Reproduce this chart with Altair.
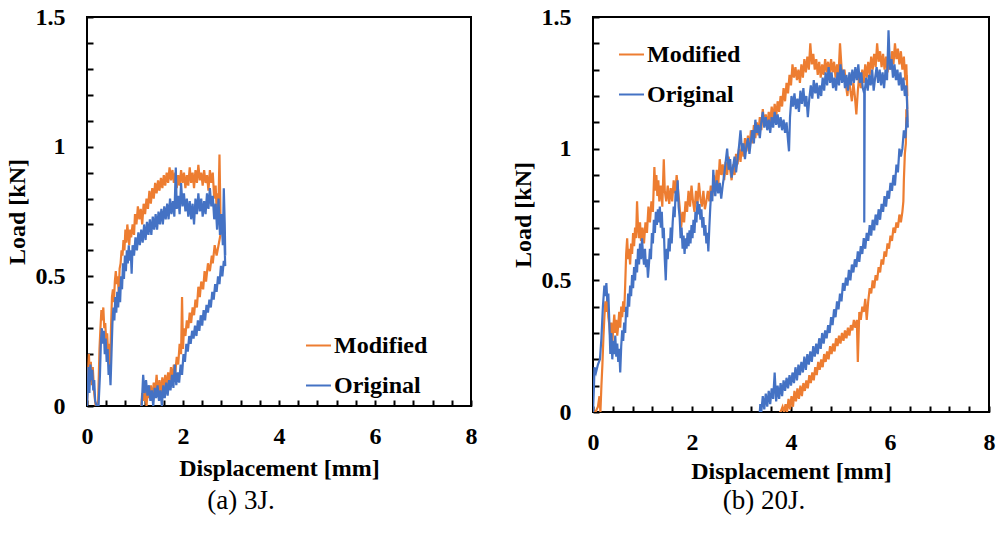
import altair as alt
import pandas as pd

SERIES = ["Modified", "Original"]
COLORS = ["#ED7D31", "#4472C4"]
X_TICKS = [0, 0.4, 0.8, 1.2, 1.6, 2, 2.4, 2.8, 3.2, 3.6, 4, 4.4, 4.8, 5.2, 5.6, 6, 6.4, 6.8, 7.2, 7.6, 8]
Y_TICKS = [0, 0.1, 0.2, 0.3, 0.4, 0.5, 0.6, 0.7, 0.8, 0.9, 1.0, 1.1, 1.2, 1.3, 1.4, 1.5]
CAPTIONS = ["(a) 3J.", "(b) 20J."]

# ---------- (a) 3J : [displacement mm, load kN] ----------
A_MODIFIED = [
    [0.00, 0.00], [0.02, 0.12], [0.04, 0.20], [0.06, 0.10], [0.08, 0.17], [0.10, 0.08], [0.12, 0.15],
    [0.15, 0.05], [0.18, 0.00], [0.20, 0.00], [0.23, 0.00], [0.26, 0.22], [0.28, 0.30], [0.30, 0.37],
    [0.32, 0.33], [0.34, 0.38], [0.36, 0.30], [0.38, 0.32], [0.40, 0.25], [0.42, 0.28], [0.44, 0.20],
    [0.46, 0.24], [0.48, 0.15], [0.50, 0.30], [0.52, 0.42], [0.54, 0.45], [0.56, 0.40], [0.58, 0.48],
    [0.60, 0.52], [0.62, 0.47], [0.64, 0.50], [0.66, 0.44], [0.68, 0.53], [0.70, 0.55], [0.72, 0.60],
    [0.74, 0.58], [0.76, 0.64], [0.78, 0.60], [0.80, 0.68], [0.82, 0.63], [0.84, 0.70], [0.86, 0.66],
    [0.88, 0.62], [0.90, 0.68], [0.92, 0.65], [0.95, 0.70], [0.98, 0.66], [1.00, 0.74], [1.03, 0.70],
    [1.06, 0.77], [1.09, 0.72], [1.12, 0.76], [1.15, 0.70], [1.18, 0.78], [1.21, 0.74], [1.24, 0.80],
    [1.27, 0.76], [1.30, 0.83], [1.33, 0.78], [1.36, 0.84], [1.39, 0.80], [1.42, 0.86], [1.45, 0.82],
    [1.48, 0.87], [1.51, 0.83], [1.54, 0.88], [1.57, 0.84], [1.60, 0.89], [1.63, 0.85], [1.66, 0.90],
    [1.69, 0.86], [1.72, 0.92], [1.75, 0.87], [1.78, 0.91], [1.81, 0.86], [1.84, 0.90], [1.87, 0.84],
    [1.90, 0.89], [1.93, 0.85], [1.96, 0.91], [1.99, 0.86], [2.02, 0.90], [2.05, 0.84], [2.08, 0.89],
    [2.11, 0.85], [2.14, 0.92], [2.17, 0.86], [2.20, 0.90], [2.23, 0.84], [2.26, 0.91], [2.29, 0.86],
    [2.32, 0.93], [2.35, 0.87], [2.38, 0.90], [2.41, 0.85], [2.44, 0.91], [2.47, 0.86], [2.50, 0.89],
    [2.53, 0.83], [2.56, 0.91], [2.59, 0.86], [2.62, 0.90], [2.65, 0.80], [2.68, 0.85], [2.70, 0.76],
    [2.72, 0.82], [2.74, 0.78], [2.76, 0.97], [2.78, 0.74], [2.80, 0.70], [2.78, 0.66], [2.74, 0.62],
    [2.70, 0.58], [2.66, 0.62], [2.62, 0.55], [2.60, 0.58], [2.56, 0.52], [2.52, 0.55], [2.48, 0.48],
    [2.45, 0.52], [2.42, 0.45], [2.38, 0.48], [2.35, 0.42], [2.32, 0.46], [2.29, 0.38], [2.26, 0.41],
    [2.23, 0.35], [2.20, 0.38], [2.17, 0.32], [2.14, 0.36], [2.11, 0.30], [2.08, 0.33], [2.05, 0.27],
    [2.02, 0.30], [2.00, 0.22], [1.98, 0.42], [1.96, 0.20], [1.93, 0.24], [1.90, 0.16], [1.87, 0.19],
    [1.84, 0.13], [1.81, 0.16], [1.78, 0.10], [1.75, 0.15], [1.72, 0.09], [1.69, 0.13], [1.66, 0.07],
    [1.63, 0.12], [1.60, 0.06], [1.57, 0.11], [1.54, 0.05], [1.51, 0.10], [1.48, 0.04], [1.45, 0.12],
    [1.42, 0.05], [1.39, 0.09], [1.36, 0.02], [1.33, 0.08], [1.30, 0.03], [1.27, 0.07], [1.24, 0.00],
    [1.21, 0.06], [1.18, 0.02], [1.15, 0.05], [1.13, 0.00],
]

A_ORIGINAL = [
    [0.00, 0.00], [0.02, 0.08], [0.03, 0.15], [0.05, 0.05], [0.07, 0.16], [0.09, 0.10], [0.11, 0.14],
    [0.13, 0.06], [0.15, 0.10], [0.17, 0.02], [0.20, 0.00], [0.24, 0.00], [0.27, 0.12], [0.29, 0.25],
    [0.31, 0.30], [0.33, 0.24], [0.35, 0.29], [0.37, 0.20], [0.39, 0.26], [0.41, 0.17], [0.43, 0.22],
    [0.45, 0.12], [0.47, 0.16], [0.49, 0.08], [0.51, 0.20], [0.53, 0.32], [0.55, 0.38], [0.57, 0.33],
    [0.59, 0.42], [0.61, 0.36], [0.63, 0.44], [0.65, 0.38], [0.67, 0.46], [0.69, 0.40], [0.71, 0.50],
    [0.73, 0.45], [0.75, 0.55], [0.77, 0.49], [0.79, 0.58], [0.81, 0.52], [0.83, 0.60], [0.85, 0.55],
    [0.87, 0.62], [0.89, 0.56], [0.91, 0.60], [0.93, 0.51], [0.95, 0.62], [0.98, 0.58], [1.01, 0.65],
    [1.04, 0.60], [1.07, 0.67], [1.10, 0.62], [1.13, 0.68], [1.16, 0.63], [1.19, 0.70], [1.22, 0.64],
    [1.25, 0.71], [1.28, 0.66], [1.31, 0.72], [1.34, 0.66], [1.37, 0.73], [1.40, 0.68], [1.43, 0.74],
    [1.46, 0.68], [1.49, 0.75], [1.52, 0.70], [1.55, 0.76], [1.58, 0.70], [1.61, 0.77], [1.64, 0.72],
    [1.67, 0.78], [1.70, 0.72], [1.73, 0.80], [1.76, 0.74], [1.79, 0.79], [1.82, 0.73], [1.85, 0.92],
    [1.87, 0.76], [1.90, 0.81], [1.93, 0.74], [1.96, 0.86], [1.99, 0.77], [2.02, 0.82], [2.05, 0.75],
    [2.08, 0.80], [2.11, 0.73], [2.14, 0.79], [2.17, 0.72], [2.20, 0.78], [2.23, 0.70], [2.26, 0.80],
    [2.29, 0.74], [2.32, 0.82], [2.35, 0.75], [2.38, 0.80], [2.41, 0.73], [2.44, 0.79], [2.47, 0.74],
    [2.50, 0.82], [2.53, 0.76], [2.56, 0.84], [2.59, 0.77], [2.62, 0.81], [2.65, 0.72], [2.68, 0.78],
    [2.71, 0.68], [2.74, 0.80], [2.77, 0.66], [2.80, 0.74], [2.83, 0.62], [2.85, 0.84], [2.87, 0.70],
    [2.88, 0.58], [2.86, 0.66], [2.88, 0.54], [2.85, 0.56], [2.82, 0.50], [2.79, 0.54], [2.76, 0.47],
    [2.73, 0.50], [2.70, 0.44], [2.67, 0.47], [2.64, 0.41], [2.61, 0.44], [2.58, 0.38], [2.55, 0.41],
    [2.52, 0.36], [2.49, 0.39], [2.46, 0.33], [2.43, 0.37], [2.40, 0.31], [2.37, 0.35], [2.34, 0.29],
    [2.31, 0.33], [2.28, 0.27], [2.25, 0.31], [2.22, 0.26], [2.19, 0.29], [2.16, 0.24], [2.13, 0.27],
    [2.10, 0.21], [2.07, 0.24], [2.04, 0.17], [2.01, 0.20], [1.98, 0.12], [1.95, 0.16], [1.92, 0.09],
    [1.89, 0.13], [1.86, 0.08], [1.83, 0.16], [1.80, 0.07], [1.77, 0.12], [1.74, 0.06], [1.71, 0.10],
    [1.68, 0.04], [1.65, 0.09], [1.62, 0.03], [1.59, 0.08], [1.56, 0.00], [1.53, 0.06], [1.50, 0.02],
    [1.47, 0.08], [1.44, 0.03], [1.41, 0.07], [1.38, 0.00], [1.35, 0.06], [1.32, 0.02], [1.29, 0.08],
    [1.26, 0.04], [1.23, 0.10], [1.20, 0.05], [1.17, 0.12], [1.15, 0.04], [1.14, 0.00],
]

# ---------- (b) 20J ----------
B_MODIFIED = [
    [0.00, 0.00], [0.05, 0.00], [0.10, 0.02], [0.13, 0.06], [0.15, 0.00], [0.17, 0.10], [0.19, 0.18],
    [0.21, 0.28], [0.23, 0.36], [0.25, 0.42], [0.27, 0.38], [0.29, 0.44], [0.31, 0.36], [0.33, 0.33],
    [0.35, 0.28], [0.37, 0.34], [0.39, 0.26], [0.41, 0.32], [0.43, 0.37], [0.45, 0.30], [0.47, 0.35],
    [0.49, 0.29], [0.51, 0.33], [0.53, 0.38], [0.55, 0.32], [0.57, 0.40], [0.59, 0.36], [0.61, 0.42],
    [0.63, 0.38], [0.65, 0.48], [0.67, 0.60], [0.69, 0.66], [0.71, 0.58], [0.73, 0.62], [0.75, 0.56],
    [0.77, 0.64], [0.79, 0.60], [0.81, 0.68], [0.83, 0.63], [0.85, 0.70], [0.87, 0.66], [0.89, 0.80],
    [0.91, 0.70], [0.93, 0.66], [0.95, 0.72], [0.97, 0.65], [1.00, 0.70], [1.03, 0.64], [1.06, 0.72],
    [1.09, 0.68], [1.12, 0.78], [1.15, 0.72], [1.18, 0.80], [1.21, 0.76], [1.24, 0.93], [1.26, 0.84],
    [1.28, 0.90], [1.30, 0.82], [1.32, 0.88], [1.34, 0.80], [1.37, 0.86], [1.40, 0.78], [1.43, 0.96],
    [1.45, 0.84], [1.48, 0.80], [1.51, 0.86], [1.54, 0.79], [1.57, 0.85], [1.60, 0.80], [1.63, 0.88],
    [1.66, 0.83], [1.69, 0.90], [1.72, 0.84], [1.75, 0.78], [1.78, 0.70], [1.81, 0.76], [1.84, 0.72],
    [1.87, 0.80], [1.90, 0.76], [1.93, 0.84], [1.96, 0.78], [1.99, 0.86], [2.02, 0.80], [2.05, 0.76],
    [2.08, 0.84], [2.11, 0.79], [2.14, 0.87], [2.17, 0.81], [2.20, 0.78], [2.23, 0.84], [2.26, 0.77],
    [2.29, 0.80], [2.32, 0.84], [2.35, 0.80], [2.38, 0.86], [2.41, 0.82], [2.44, 0.90], [2.47, 0.85],
    [2.50, 0.92], [2.53, 0.86], [2.56, 0.96], [2.59, 0.90], [2.62, 0.94], [2.65, 0.88], [2.68, 0.95],
    [2.71, 0.90], [2.74, 0.97], [2.77, 0.92], [2.80, 0.88], [2.83, 0.94], [2.86, 0.90], [2.89, 0.98],
    [2.92, 0.94], [2.95, 1.00], [2.98, 0.95], [3.01, 1.02], [3.04, 0.97], [3.07, 1.04], [3.10, 0.99],
    [3.13, 1.05], [3.16, 1.00], [3.19, 1.07], [3.22, 1.02], [3.25, 1.09], [3.28, 1.04], [3.31, 1.10],
    [3.34, 1.05], [3.37, 1.12], [3.40, 1.07], [3.43, 1.15], [3.46, 1.09], [3.49, 1.13], [3.52, 1.08],
    [3.55, 1.14], [3.58, 1.10], [3.61, 1.16], [3.64, 1.11], [3.67, 1.17], [3.70, 1.12], [3.73, 1.18],
    [3.76, 1.14], [3.79, 1.20], [3.82, 1.16], [3.85, 1.23], [3.88, 1.18], [3.91, 1.25], [3.94, 1.21],
    [3.97, 1.28], [4.00, 1.24], [4.03, 1.32], [4.06, 1.27], [4.09, 1.31], [4.12, 1.26], [4.15, 1.30],
    [4.18, 1.25], [4.21, 1.32], [4.24, 1.27], [4.27, 1.34], [4.30, 1.29], [4.33, 1.35], [4.36, 1.30],
    [4.39, 1.40], [4.42, 1.32], [4.45, 1.36], [4.48, 1.30], [4.51, 1.34], [4.54, 1.28], [4.57, 1.33],
    [4.60, 1.27], [4.63, 1.32], [4.66, 1.28], [4.69, 1.34], [4.72, 1.29], [4.75, 1.33], [4.78, 1.28],
    [4.81, 1.34], [4.84, 1.29], [4.87, 1.33], [4.90, 1.27], [4.93, 1.32], [4.96, 1.28], [4.99, 1.40],
    [5.02, 1.31], [5.05, 1.26], [5.08, 1.30], [5.11, 1.24], [5.14, 1.20], [5.17, 1.27], [5.20, 1.22],
    [5.23, 1.18], [5.26, 1.25], [5.29, 1.20], [5.32, 1.13], [5.35, 1.22], [5.38, 1.28], [5.41, 1.23],
    [5.44, 1.30], [5.47, 1.25], [5.50, 1.32], [5.53, 1.27], [5.56, 1.33], [5.59, 1.28], [5.62, 1.35],
    [5.65, 1.30], [5.68, 1.36], [5.71, 1.31], [5.74, 1.40], [5.77, 1.33], [5.80, 1.37], [5.83, 1.31],
    [5.86, 1.36], [5.89, 1.30], [5.92, 1.35], [5.95, 1.29], [5.98, 1.34], [6.01, 1.30], [6.04, 1.37],
    [6.07, 1.32], [6.10, 1.40], [6.13, 1.34], [6.16, 1.38], [6.19, 1.32], [6.22, 1.37], [6.25, 1.30],
    [6.28, 1.35], [6.31, 1.26], [6.33, 1.32], [6.35, 1.20], [6.34, 1.28], [6.35, 1.10], [6.33, 1.15],
    [6.32, 1.02], [6.30, 0.98], [6.28, 0.88], [6.27, 0.80], [6.25, 0.76], [6.22, 0.72], [6.19, 0.75],
    [6.16, 0.70], [6.13, 0.72], [6.10, 0.68], [6.07, 0.70], [6.04, 0.65], [6.01, 0.67], [5.98, 0.62],
    [5.95, 0.64], [5.92, 0.59], [5.89, 0.61], [5.86, 0.56], [5.83, 0.58], [5.80, 0.53], [5.77, 0.55],
    [5.74, 0.50], [5.71, 0.52], [5.68, 0.47], [5.65, 0.50], [5.62, 0.45], [5.59, 0.47], [5.56, 0.42],
    [5.53, 0.35], [5.50, 0.43], [5.47, 0.38], [5.44, 0.40], [5.41, 0.35], [5.38, 0.38], [5.35, 0.19],
    [5.33, 0.35], [5.30, 0.32], [5.27, 0.35], [5.24, 0.31], [5.21, 0.33], [5.18, 0.29], [5.15, 0.32],
    [5.12, 0.28], [5.09, 0.31], [5.06, 0.27], [5.03, 0.30], [5.00, 0.26], [4.97, 0.29], [4.94, 0.25],
    [4.91, 0.28], [4.88, 0.23], [4.85, 0.26], [4.82, 0.22], [4.79, 0.25], [4.76, 0.20], [4.73, 0.23],
    [4.70, 0.19], [4.67, 0.22], [4.64, 0.17], [4.61, 0.20], [4.58, 0.16], [4.55, 0.19], [4.52, 0.14],
    [4.49, 0.17], [4.46, 0.12], [4.43, 0.15], [4.40, 0.11], [4.37, 0.14], [4.34, 0.09], [4.31, 0.12],
    [4.28, 0.08], [4.25, 0.11], [4.22, 0.06], [4.19, 0.10], [4.16, 0.05], [4.13, 0.09], [4.10, 0.04],
    [4.07, 0.08], [4.04, 0.02], [4.01, 0.06], [3.98, 0.01], [3.95, 0.05], [3.92, 0.00], [3.89, 0.03],
    [3.86, 0.00], [3.83, 0.02], [3.79, 0.00], [3.76, 0.00],
]

B_ORIGINAL = [
    [0.00, 0.00], [0.02, 0.10], [0.03, 0.17], [0.06, 0.15], [0.10, 0.18], [0.14, 0.20], [0.17, 0.28],
    [0.20, 0.40], [0.23, 0.48], [0.25, 0.44], [0.27, 0.49], [0.29, 0.42], [0.31, 0.45], [0.33, 0.34],
    [0.35, 0.22], [0.37, 0.30], [0.39, 0.20], [0.41, 0.27], [0.43, 0.22], [0.45, 0.29], [0.47, 0.21],
    [0.49, 0.26], [0.51, 0.19], [0.53, 0.24], [0.55, 0.15], [0.57, 0.25], [0.59, 0.31], [0.61, 0.27],
    [0.63, 0.34], [0.65, 0.30], [0.67, 0.40], [0.69, 0.36], [0.71, 0.45], [0.73, 0.40], [0.75, 0.48],
    [0.77, 0.44], [0.79, 0.52], [0.81, 0.47], [0.83, 0.55], [0.85, 0.50], [0.87, 0.58], [0.89, 0.53],
    [0.91, 0.62], [0.93, 0.56], [0.95, 0.64], [0.97, 0.58], [0.99, 0.66], [1.01, 0.60], [1.03, 0.56],
    [1.05, 0.62], [1.07, 0.55], [1.09, 0.58], [1.11, 0.51], [1.13, 0.56], [1.15, 0.62], [1.17, 0.58],
    [1.19, 0.68], [1.21, 0.64], [1.23, 0.73], [1.25, 0.68], [1.27, 0.76], [1.29, 0.71], [1.31, 0.77],
    [1.33, 0.72], [1.35, 0.78], [1.37, 0.70], [1.39, 0.76], [1.41, 0.66], [1.43, 0.70], [1.45, 0.58],
    [1.47, 0.50], [1.49, 0.62], [1.51, 0.58], [1.53, 0.66], [1.55, 0.61], [1.57, 0.70], [1.59, 0.64],
    [1.61, 0.72], [1.63, 0.78], [1.65, 0.74], [1.67, 0.84], [1.69, 0.80], [1.71, 0.88], [1.73, 0.78],
    [1.75, 0.74], [1.77, 0.66], [1.79, 0.70], [1.81, 0.62], [1.83, 0.67], [1.85, 0.60], [1.87, 0.66],
    [1.89, 0.62], [1.91, 0.68], [1.93, 0.63], [1.95, 0.69], [1.97, 0.64], [1.99, 0.71], [2.01, 0.66],
    [2.03, 0.73], [2.05, 0.68], [2.07, 0.76], [2.09, 0.72], [2.11, 0.80], [2.13, 0.75], [2.15, 0.79],
    [2.17, 0.73], [2.19, 0.77], [2.21, 0.70], [2.23, 0.74], [2.25, 0.67], [2.27, 0.71], [2.29, 0.64],
    [2.31, 0.68], [2.33, 0.61], [2.35, 0.70], [2.37, 0.78], [2.39, 0.84], [2.41, 0.80], [2.43, 0.92],
    [2.45, 0.86], [2.47, 0.82], [2.50, 0.88], [2.53, 0.83], [2.56, 0.87], [2.59, 0.81], [2.62, 0.86],
    [2.65, 0.90], [2.68, 0.95], [2.71, 1.00], [2.74, 0.92], [2.77, 0.96], [2.80, 0.89], [2.83, 0.93],
    [2.86, 0.97], [2.89, 0.91], [2.92, 0.96], [2.95, 1.01], [2.98, 1.07], [3.01, 0.99], [3.04, 1.02],
    [3.07, 0.96], [3.10, 1.01], [3.13, 1.04], [3.16, 0.98], [3.19, 1.03], [3.22, 1.07], [3.25, 1.02],
    [3.28, 1.11], [3.31, 1.06], [3.34, 1.09], [3.37, 1.04], [3.40, 1.10], [3.43, 1.14], [3.46, 1.08],
    [3.49, 1.12], [3.52, 1.07], [3.55, 1.11], [3.58, 1.06], [3.61, 1.12], [3.64, 1.08], [3.67, 1.14],
    [3.70, 1.09], [3.73, 1.13], [3.76, 1.08], [3.79, 1.12], [3.82, 1.07], [3.85, 1.11], [3.88, 1.06],
    [3.91, 1.10], [3.94, 1.03], [3.96, 0.99], [3.98, 1.12], [4.01, 1.20], [4.04, 1.16], [4.07, 1.21],
    [4.10, 1.15], [4.13, 1.19], [4.16, 1.14], [4.19, 1.22], [4.22, 1.17], [4.25, 1.23], [4.28, 1.16],
    [4.31, 1.20], [4.34, 1.12], [4.37, 1.19], [4.40, 1.24], [4.43, 1.19], [4.46, 1.26], [4.49, 1.21],
    [4.52, 1.25], [4.55, 1.19], [4.58, 1.24], [4.61, 1.20], [4.64, 1.27], [4.67, 1.22], [4.70, 1.29],
    [4.73, 1.24], [4.76, 1.31], [4.79, 1.25], [4.82, 1.29], [4.85, 1.23], [4.88, 1.27], [4.91, 1.22],
    [4.94, 1.29], [4.97, 1.24], [5.00, 1.32], [5.03, 1.25], [5.06, 1.30], [5.09, 1.23], [5.12, 1.28],
    [5.15, 1.22], [5.18, 1.29], [5.21, 1.24], [5.24, 1.30], [5.27, 1.25], [5.30, 1.31], [5.33, 1.26],
    [5.36, 1.32], [5.39, 1.25], [5.42, 1.29], [5.45, 1.23], [5.48, 1.21], [5.48, 0.72], [5.49, 1.22],
    [5.52, 1.27], [5.55, 1.22], [5.58, 1.28], [5.61, 1.24], [5.64, 1.30], [5.67, 1.22], [5.70, 1.27],
    [5.73, 1.31], [5.76, 1.25], [5.79, 1.30], [5.82, 1.24], [5.85, 1.29], [5.88, 1.23], [5.91, 1.30],
    [5.94, 1.26], [5.97, 1.45], [6.00, 1.30], [6.03, 1.34], [6.06, 1.27], [6.09, 1.32], [6.12, 1.26],
    [6.15, 1.30], [6.18, 1.24], [6.21, 1.29], [6.24, 1.22], [6.27, 1.27], [6.30, 1.20], [6.33, 1.24],
    [6.35, 1.15], [6.34, 1.20], [6.36, 1.08], [6.34, 1.12], [6.31, 1.04], [6.28, 1.07], [6.25, 1.00],
    [6.22, 0.97], [6.19, 1.00], [6.16, 0.91], [6.13, 0.94], [6.10, 0.86], [6.07, 0.90], [6.04, 0.84],
    [6.01, 0.87], [5.98, 0.81], [5.95, 0.84], [5.92, 0.78], [5.89, 0.82], [5.86, 0.76], [5.83, 0.79],
    [5.80, 0.73], [5.77, 0.77], [5.74, 0.71], [5.71, 0.75], [5.68, 0.69], [5.65, 0.73], [5.62, 0.67],
    [5.59, 0.71], [5.56, 0.65], [5.53, 0.68], [5.50, 0.62], [5.47, 0.66], [5.44, 0.60], [5.41, 0.63],
    [5.38, 0.57], [5.35, 0.61], [5.32, 0.55], [5.29, 0.58], [5.26, 0.53], [5.23, 0.56], [5.20, 0.50],
    [5.17, 0.54], [5.14, 0.48], [5.11, 0.51], [5.08, 0.46], [5.05, 0.49], [5.02, 0.42], [4.99, 0.45],
    [4.96, 0.39], [4.93, 0.42], [4.90, 0.36], [4.87, 0.39], [4.84, 0.33], [4.81, 0.36], [4.78, 0.30],
    [4.75, 0.33], [4.72, 0.28], [4.69, 0.31], [4.66, 0.26], [4.63, 0.30], [4.60, 0.24], [4.57, 0.28],
    [4.54, 0.22], [4.51, 0.26], [4.48, 0.21], [4.45, 0.25], [4.42, 0.19], [4.39, 0.23], [4.36, 0.18],
    [4.33, 0.22], [4.30, 0.16], [4.27, 0.21], [4.24, 0.15], [4.21, 0.19], [4.18, 0.14], [4.15, 0.18],
    [4.12, 0.12], [4.09, 0.17], [4.06, 0.11], [4.03, 0.15], [4.00, 0.10], [3.97, 0.14], [3.94, 0.09],
    [3.91, 0.13], [3.88, 0.08], [3.85, 0.12], [3.82, 0.06], [3.79, 0.11], [3.76, 0.05], [3.73, 0.10],
    [3.70, 0.04], [3.67, 0.15], [3.64, 0.05], [3.61, 0.09], [3.58, 0.03], [3.55, 0.08], [3.52, 0.02],
    [3.49, 0.07], [3.46, 0.01], [3.43, 0.06], [3.40, 0.00], [3.38, 0.03], [3.37, 0.00],
]


def to_frame(modified, original):
    rows = []
    for name, pts in ((SERIES[0], modified), (SERIES[1], original)):
        for i, (d, load) in enumerate(pts):
            rows.append({"series": name, "d": d, "load": load, "i": i})
    return pd.DataFrame(rows)


FONT = "Liberation Serif"
X_LABELS = "abs(datum.value / 2 - round(datum.value / 2)) < 0.001 ? format(datum.value, '~g') : ''"
Y_LABELS = "abs(datum.value * 2 - round(datum.value * 2)) < 0.001 ? format(datum.value, '~g') : ''"

AXIS_STYLE = dict(
    labelFont=FONT, labelFontWeight="bold", labelFontSize=24, labelColor="black",
    titleFont=FONT, titleFontWeight="bold", titleFontSize=24, titleColor="black",
    tickColor="black", tickWidth=2, offset=-6, tickSize=6, domain=False, grid=False,
    labelFlush=False,
)


def panel(df, w, h, lx, ly, caption, x_title_pad, cap_offset, cap_dx):
    x = alt.X("d:Q", scale=alt.Scale(domain=[0, 8], nice=False, zero=False),
              axis=alt.Axis(values=X_TICKS, labelExpr=X_LABELS, title="Displacement [mm]",
                            labelPadding=18, titlePadding=x_title_pad, **AXIS_STYLE))
    y = alt.Y("load:Q", scale=alt.Scale(domain=[0, 1.5], nice=False),
              axis=alt.Axis(values=Y_TICKS, labelExpr=Y_LABELS, title="Load [kN]",
                            labelPadding=22, titlePadding=6, **AXIS_STYLE))
    color = alt.Color("series:N",
                      scale=alt.Scale(domain=SERIES, range=COLORS),
                      legend=alt.Legend(title=None, orient="none", legendX=lx, legendY=ly,
                                        symbolType="stroke", symbolSize=625, symbolStrokeWidth=2,
                                        labelFont=FONT, labelFontWeight="bold", labelFontSize=24,
                                        labelColor="black", labelOffset=2, rowPadding=14,
                                        padding=0))
    return alt.Chart(df).mark_line(strokeWidth=2.2, clip=True).encode(
        x=x, y=y, color=color, order=alt.Order("i:Q")
    ).properties(
        width=w, height=h,
        title=alt.TitleParams(caption, orient="bottom", font=FONT, fontSize=27,
                              fontWeight="normal", color="black", offset=cap_offset,
                              dx=cap_dx, anchor="middle", frame="bounds"),
    )


left = panel(to_frame(A_MODIFIED, A_ORIGINAL), 384, 389, 218, 315, CAPTIONS[0], 8, 8, 0)
right = panel(to_frame(B_MODIFIED, B_ORIGINAL), 396, 395, 25, 24, CAPTIONS[1], 5, 5, 11)

chart = alt.hconcat(left, right, spacing=32).resolve_scale(color="independent").resolve_legend(
    color="independent"
).properties(
    padding={"left": 4, "top": 4, "right": 0, "bottom": 0},
    background="white",
).configure_view(
    stroke="black", strokeWidth=2
)

chart.save("out.html", embed_options={"renderer": "svg", "actions": False})
